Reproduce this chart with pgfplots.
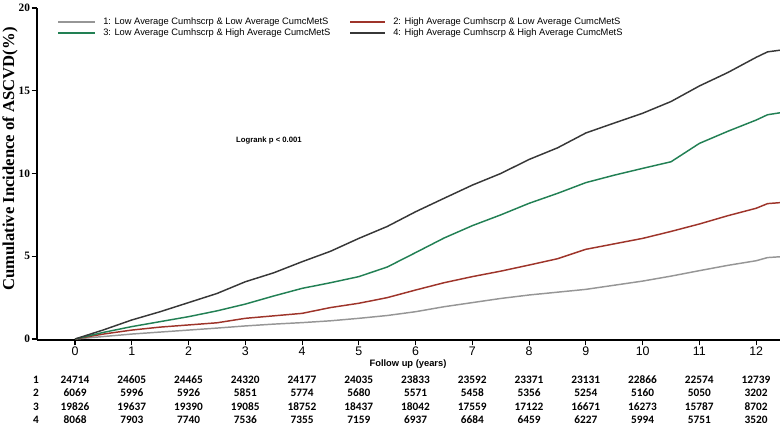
\documentclass[border=0pt]{standalone}
\usepackage{fontspec}
\setmainfont{Liberation Sans}
\newfontfamily\timesf{Liberation Serif}
\newfontfamily\carl{Carlito}
\usepackage{pgfplots}
\pgfplotsset{compat=1.18}
\definecolor{cgray}{RGB}{150,150,150}
\definecolor{cred}{RGB}{158,52,42}
\definecolor{cgreen}{RGB}{34,128,84}
\definecolor{cdark}{RGB}{55,55,55}
\begin{document}
\begin{tikzpicture}[x=0.75pt,y=-0.75pt]
\path[use as bounding box] (0,0) rectangle (780,432);
\begin{axis}[
  anchor=south west, at={(27.75pt,-255pt)},
  width=557.25pt, height=249pt, scale only axis,
  xmin=-0.67, xmax=12.42, ymin=-0.06, ymax=20,
  axis x line*=bottom, axis y line*=left,
  axis line style={line width=0.9pt, black},
  xtick={0,...,12}, ytick={0,5,10,15,20},
  tick align=outside,
  tick style={black, line width=0.8pt},
  major tick length=4pt,
  /pgf/number format/assume math mode=true,
  xticklabel style={font=\fontsize{9.3}{10}\selectfont, inner sep=1pt},
  yticklabel style={font=\timesf\bfseries\fontsize{8.5}{9}\selectfont, inner sep=1pt},
  clip=false,
]
\addplot[cgray, line width=1.1pt] table {
0 0
0.5 0.15
1 0.30
1.5 0.42
2 0.54
2.5 0.66
3 0.79
3.5 0.90
4 0.99
4.5 1.10
5 1.25
5.5 1.42
6 1.65
6.5 1.95
7 2.20
7.5 2.45
8 2.66
8.5 2.83
9 3.00
9.5 3.25
10 3.50
10.5 3.80
11 4.13
11.5 4.45
12 4.73
12.2 4.92
12.42 4.97
};
\addplot[cred, line width=1.1pt] table {
0 0
0.5 0.30
1 0.54
1.5 0.72
2 0.85
2.5 0.98
3 1.25
3.5 1.40
4 1.55
4.5 1.90
5 2.16
5.5 2.50
6 2.96
6.5 3.40
7 3.77
7.5 4.10
8 4.47
8.5 4.85
9 5.42
9.5 5.75
10 6.08
10.5 6.50
11 6.95
11.5 7.45
12 7.90
12.2 8.18
12.42 8.24
};
\addplot[cgreen, line width=1.1pt] table {
0 0
0.5 0.40
1 0.75
1.5 1.05
2 1.35
2.5 1.70
3 2.11
3.5 2.60
4 3.06
4.5 3.40
5 3.77
5.5 4.35
6 5.22
6.5 6.10
7 6.85
7.5 7.50
8 8.20
8.5 8.80
9 9.45
9.5 9.90
10 10.31
10.5 10.71
11 11.82
11.5 12.55
12 13.23
12.2 13.55
12.42 13.67
};
\addplot[cdark, line width=1.1pt] table {
0 0
0.5 0.55
1 1.15
1.5 1.65
2 2.20
2.5 2.75
3 3.46
3.5 4.00
4 4.67
4.5 5.30
5 6.08
5.5 6.80
6 7.69
6.5 8.50
7 9.30
7.5 10.00
8 10.85
8.5 11.55
9 12.45
9.5 13.05
10 13.64
10.5 14.35
11 15.29
11.5 16.10
12 17.02
12.2 17.35
12.42 17.45
};
\end{axis}
% legend
\draw[cgray, line width=1.9pt] (58,22) -- (95,22);
\draw[cgreen, line width=1.9pt] (58,33) -- (95,33);
\draw[cred, line width=1.9pt] (350,22) -- (385,22);
\draw[cdark, line width=1.9pt] (350,33) -- (385,33);
\begin{scope}[every node/.style={anchor=west, inner sep=0pt, font=\fontsize{7}{8}\selectfont}]
\node at (103,22) {1: Low Average Cumhscrp \& Low Average CumcMetS};
\node at (103,33) {3: Low Average Cumhscrp \& High Average CumcMetS};
\node at (393,22) {2: High Average Cumhscrp \& Low Average CumcMetS};
\node at (393,33) {4: High Average Cumhscrp \& High Average CumcMetS};
\end{scope}
\node[font=\bfseries\fontsize{5.8}{7}\selectfont] at (269,141) {Logrank p < 0.001};
\node[rotate=90, font=\timesf\bfseries\fontsize{12.5}{14}\selectfont] at (10,159) {Cumulative Incidence of ASCVD(\%)};
\node[font=\bfseries\fontsize{7}{8}\selectfont] at (408,364) {Follow up (years)};
\foreach \r/\yy in {1/380,2/393,3/407,4/420} {
  \node[font=\carl\bfseries\fontsize{8.5}{9}\selectfont] at (36,\yy) {\r};
}
\foreach \v [count=\i from 0] in {24714,24605,24465,24320,24177,24035,23833,23592,23371,23131,22866,22574,12739} {
  \node[font=\carl\bfseries\fontsize{8.5}{9}\selectfont] at (75+56.75*\i,380) {\v};
}
\foreach \v [count=\i from 0] in {6069,5996,5926,5851,5774,5680,5571,5458,5356,5254,5160,5050,3202} {
  \node[font=\carl\bfseries\fontsize{8.5}{9}\selectfont] at (75+56.75*\i,393) {\v};
}
\foreach \v [count=\i from 0] in {19826,19637,19390,19085,18752,18437,18042,17559,17122,16671,16273,15787,8702} {
  \node[font=\carl\bfseries\fontsize{8.5}{9}\selectfont] at (75+56.75*\i,407) {\v};
}
\foreach \v [count=\i from 0] in {8068,7903,7740,7536,7355,7159,6937,6684,6459,6227,5994,5751,3520} {
  \node[font=\carl\bfseries\fontsize{8.5}{9}\selectfont] at (75+56.75*\i,420) {\v};
}
\end{tikzpicture}
\end{document}
